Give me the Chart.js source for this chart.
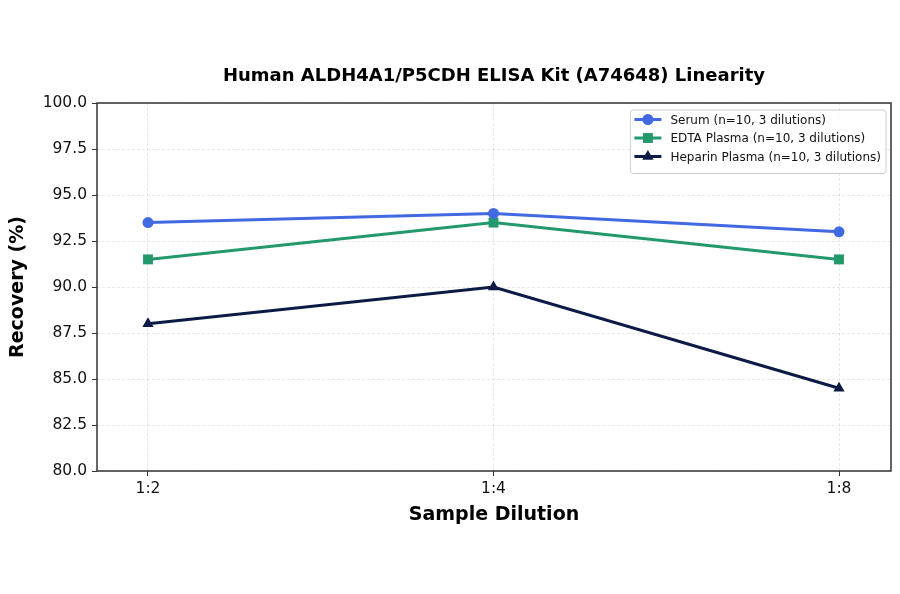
<!DOCTYPE html>
<html>
<head>
<meta charset="utf-8">
<script src="https://cdn.jsdelivr.net/npm/chart.js@4.4.1/dist/chart.umd.min.js"></script>
<style>
  html, body { margin: 0; padding: 0; background: #fff; }
  #wrap { width: 900px; height: 594px; }
</style>
</head>
<body>
<div id="wrap"><canvas id="chart" width="900" height="594"></canvas></div>
<script>
// data
const dilutions = ["1:2", "1:4", "1:8"];
const serum = [93.5, 94.0, 93.0];
const edtaPlasma = [91.5, 93.5, 91.5];
const heparinPlasma = [88.0, 90.0, 84.5];
const seriesNames = [
  "Serum (n=10, 3 dilutions)",
  "EDTA Plasma (n=10, 3 dilutions)",
  "Heparin Plasma (n=10, 3 dilutions)"
];
const yTicks = [80, 82.5, 85, 87.5, 90, 92.5, 95, 97.5, 100];
const chartTitle = "Human ALDH4A1/P5CDH ELISA Kit (A74648) Linearity";

const FONT = "'DejaVu Sans', sans-serif";

function pts(vals) {
  return vals.map((v, i) => ({ x: i, y: v }));
}

// frame, title and the in-plot legend
const decor = {
  id: 'decor',
  afterDraw(chart) {
    const ctx = chart.ctx;
    const a = chart.chartArea;
    ctx.save();
    ctx.strokeStyle = '#333';
    ctx.lineWidth = 1.5;
    ctx.strokeRect(a.left, a.top, a.right - a.left, a.bottom - a.top);

    ctx.fillStyle = '#000';
    ctx.font = "bold 18px " + FONT;
    ctx.textAlign = 'center';
    ctx.textBaseline = 'middle';
    ctx.fillText(chartTitle, (a.left + a.right) / 2, 76);

    // legend
    const sets = chart.data.datasets;
    ctx.font = "12px " + FONT;
    let w = 0;
    sets.forEach(d => { w = Math.max(w, ctx.measureText(d.label).width); });
    const boxW = w + 45, rowH = 18.5, boxH = sets.length * rowH + 8;
    const bx = a.right - 5 - boxW, by = a.top + 7;
    ctx.fillStyle = 'rgba(255,255,255,0.85)';
    ctx.strokeStyle = '#ccc';
    ctx.lineWidth = 1;
    ctx.beginPath();
    ctx.roundRect(bx, by, boxW, boxH, 3);
    ctx.fill();
    ctx.stroke();
    sets.forEach((d, i) => {
      const cy = by + 9 + rowH * i + 0.5;
      ctx.strokeStyle = d.borderColor;
      ctx.lineWidth = 3;
      ctx.beginPath();
      ctx.moveTo(bx + 4, cy);
      ctx.lineTo(bx + 31, cy);
      ctx.stroke();
      ctx.fillStyle = d.backgroundColor;
      Chart.helpers.drawPoint(ctx, { pointStyle: d.pointStyle, radius: d.pointRadius, borderWidth: 0 }, bx + 17.5, cy);
      ctx.fillStyle = '#111';
      ctx.textAlign = 'left';
      ctx.fillText(d.label, bx + 40, cy + 1);
    });
    ctx.restore();
  }
};

const colors = ['#4169e1', '#23996b', '#0c1a46'];
const styles = ['circle', 'rect', 'triangle'];
const radii = [5.5, 7, 6.5];
const values = [serum, edtaPlasma, heparinPlasma];

new Chart(document.getElementById('chart'), {
  type: 'line',
  data: {
    datasets: values.map((v, i) => ({
      label: seriesNames[i],
      data: pts(v),
      borderColor: colors[i],
      backgroundColor: colors[i],
      borderWidth: 3,
      pointStyle: styles[i],
      pointRadius: radii[i],
      pointBorderWidth: 0,
      tension: 0
    }))
  },
  options: {
    responsive: false,
    animation: false,
    layout: { padding: { top: 103, left: 0, right: 9, bottom: 63 } },
    plugins: { legend: { display: false }, title: { display: false }, tooltip: { enabled: false } },
    scales: {
      x: {
        type: 'linear',
        min: -0.1476,
        max: 2.1505,
        afterBuildTicks: s => { s.ticks = dilutions.map((d, i) => ({ value: i })); },
        afterFit: s => { s.height = 60; },
        ticks: {
          callback: v => dilutions[v],
          font: { family: FONT, size: 15.5 },
          color: '#111',
          padding: 4,
          maxRotation: 0
        },
        grid: { color: 'rgba(0,0,0,0.09)', tickColor: '#333', tickLength: 5, lineWidth: 1 },
        border: { display: false, dash: [3, 2] },
        title: {
          display: true,
          text: 'Sample Dilution',
          font: { family: FONT, size: 19, weight: 'bold' },
          color: '#000',
          padding: { top: 0, bottom: 5 }
        }
      },
      y: {
        min: 80,
        max: 100,
        afterBuildTicks: s => { s.ticks = yTicks.map(v => ({ value: v })); },
        afterFit: s => { s.width = 97; },
        ticks: {
          callback: v => v.toFixed(1),
          font: { family: FONT, size: 15.5 },
          color: '#111',
          padding: 5
        },
        grid: { color: 'rgba(0,0,0,0.09)', tickColor: '#333', tickLength: 5, lineWidth: 1 },
        border: { display: false, dash: [3, 2] },
        title: {
          display: true,
          text: 'Recovery (%)',
          font: { family: FONT, size: 19, weight: 'bold' },
          color: '#000',
          padding: { top: 7, bottom: 0 }
        }
      }
    }
  },
  plugins: [decor]
});
</script>
</body>
</html>
